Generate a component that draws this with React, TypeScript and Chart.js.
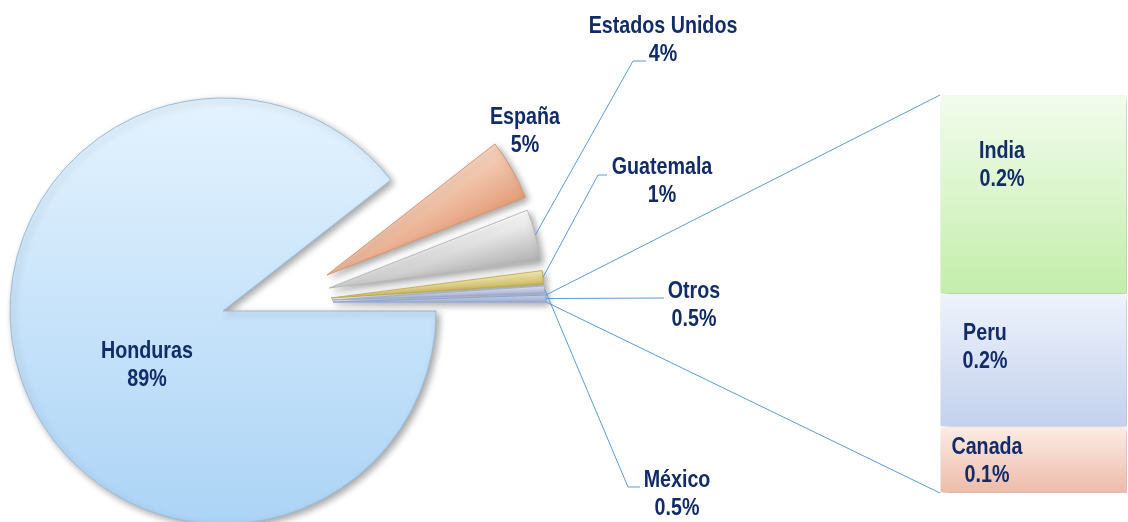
import React, { useEffect, useRef } from 'react';
import { Chart, registerables } from 'chart.js';

Chart.register(...registerables);

// ---- data ----
const pieCategories = ['Honduras', 'España', 'Estados Unidos', 'Guatemala', 'México', 'Otros'];
const pieValues = [89.45, 4.6, 3.9, 1.0, 0.53, 0.52];
const barCategories = ['India', 'Peru', 'Canada'];
const barValues = [0.24, 0.16, 0.08];

// ---- styles / layout ----
const W = 1128;
const H = 522;
const BAR_LEFT = 940;
const BAR_W = W - BAR_LEFT;
const PIE_RADIUS = 213;
const TEXT = '#112c68';
const LINE = '#5b9bd5';

const pieLight = ['#e4f3fe', '#f7d6c2', '#ffffff', '#f8f0b8', '#dde4f6', '#c9d5ef'];
const pieDark = ['#acd4f6', '#e39c77', '#adadad', '#cbb553', '#aab8de', '#9badd8'];
const pieBorder = ['#9cbcd8', '#d89572', '#b9b9b9', '#c4b05a', '#9fb0d8', '#8fa3d3'];
// explosion shift of each slice (px)
const explode: [number, number][] = [[0, 0], [104, -36], [106, -23], [108, -13], [109, -11], [110, -9]];
// label anchors (centre of first line) and leader elbows
const pieLabelPos: [number, number][] = [[147, 351], [525, 117], [663, 26], [662, 167], [677, 480], [694, 291]];
const pieLeaders: ([number, number][] | null)[] = [null, null, [[633, 61], [646, 61]], [[598, 175], [607, 175]], [[628, 487], [640, 487]], [[664, 298]]];

const barLight = ['#f2fced', '#eef3fc', '#fcece5'];
const barDark = ['#c3eeaa', '#c3d1ed', '#eebba9'];
const barLabelOff: [number, number][] = [[62, 56], [45, 39], [47, 21]];

const fmtPct = (v: number) => (v >= 1 ? Math.round(v) + '%' : v.toFixed(1) + '%');

export default function App() {
  const pieRef = useRef<HTMLCanvasElement>(null);
  const barRef = useRef<HTMLCanvasElement>(null);

  useEffect(() => {
    const pc = pieRef.current!;
    const bc = barRef.current!;

    const probe = document.createElement('canvas').getContext('2d')!;
    probe.font = 'bold 24px "Liberation Sans Narrow", monospace';
    const a = probe.measureText('Estados Unidos').width;
    probe.font = 'bold 24px monospace';
    const b = probe.measureText('Estados Unidos').width;
    const narrow = Math.abs(a - b) > 0.5;
    const FONT = narrow ? 'bold 24px "Liberation Sans Narrow"' : 'bold 24px "Liberation Sans", Arial, sans-serif';
    const SX = narrow ? 1 : 0.82;

    const drawText = (ctx: CanvasRenderingContext2D, text: string, x: number, y: number) => {
      ctx.save();
      ctx.translate(x, y);
      ctx.scale(SX, 1);
      ctx.font = FONT;
      ctx.fillStyle = TEXT;
      ctx.textAlign = 'center';
      ctx.textBaseline = 'middle';
      ctx.fillText(text, 0, 0);
      ctx.restore();
    };

    const shadowOn = (ctx: CanvasRenderingContext2D) => {
      ctx.save();
      ctx.shadowColor = 'rgba(0,0,0,0.35)';
      ctx.shadowBlur = 7;
      ctx.shadowOffsetX = 3;
      ctx.shadowOffsetY = 3;
    };

    // ---------- bar of pie ----------
    const barTotal = barValues.reduce((s, v) => s + v, 0);
    const order = [2, 1, 0]; // bottom -> top
    const barDeco = {
      id: 'barDeco',
      beforeDatasetsDraw(chart: any) { shadowOn(chart.ctx); },
      afterDatasetsDraw(chart: any) { chart.ctx.restore(); },
      afterDraw(chart: any) {
        const ctx = chart.ctx;
        order.forEach((idx, di) => {
          const el = chart.getDatasetMeta(di).data[0];
          const left = el.x - el.width / 2;
          const top = Math.min(el.y, el.base);
          const [ox, oy] = barLabelOff[idx];
          drawText(ctx, barCategories[idx], left + ox, top + oy);
          drawText(ctx, fmtPct(barValues[idx]), left + ox, top + oy + 28);
        });
      },
    };

    const barChart = new Chart(bc, {
      type: 'bar',
      data: {
        labels: [''],
        datasets: order.map((idx, di) => ({
          label: barCategories[idx],
          data: [barValues[idx]],
          backgroundColor: (c: any) => {
            const chart = c.chart;
            const ys = chart.scales && chart.scales.y;
            if (!ys || !chart.chartArea) return barLight[idx];
            let below = 0;
            for (let k = 0; k < di; k++) below += barValues[order[k]];
            const y0 = ys.getPixelForValue(below + barValues[idx]);
            const y1 = ys.getPixelForValue(below);
            const g = chart.ctx.createLinearGradient(0, y0, 0, y1);
            g.addColorStop(0, barLight[idx]);
            g.addColorStop(1, barDark[idx]);
            return g;
          },
          borderColor: '#ffffff',
          borderWidth: 1,
          borderSkipped: false,
          barPercentage: 1,
          categoryPercentage: 1,
        })),
      },
      options: {
        responsive: false,
        animation: false,
        events: [],
        layout: { padding: { top: 95, bottom: 29, left: 0, right: 1 } },
        scales: {
          x: { display: false, stacked: true },
          y: { display: false, stacked: true, min: 0, max: barTotal },
        },
        plugins: { legend: { display: false }, tooltip: { enabled: false } },
      },
      plugins: [barDeco],
    } as any);

    // ---------- pie ----------
    const pieTotal = pieValues.reduce((s, v) => s + v, 0);
    const angleOf = (i: number) => {
      let cum = 0;
      for (let k = 0; k < i; k++) cum += pieValues[k];
      return [(cum / pieTotal) * Math.PI * 2, ((cum + pieValues[i]) / pieTotal) * Math.PI * 2];
    };

    const pieDeco = {
      id: 'pieDeco',
      afterDatasetsUpdate(chart: any) {
        const meta = chart.getDatasetMeta(0);
        meta.data.forEach((el: any, i: number) => {
          el.x += explode[i][0];
          el.y += explode[i][1];
        });
      },
      beforeDatasetsDraw(chart: any) { shadowOn(chart.ctx); },
      afterDatasetsDraw(chart: any) { chart.ctx.restore(); },
      afterDraw(chart: any) {
        const ctx = chart.ctx;
        const meta = chart.getDatasetMeta(0);
        ctx.save();
        ctx.strokeStyle = LINE;
        ctx.lineWidth = 1;
        // leader lines
        meta.data.forEach((el: any, i: number) => {
          const pts = pieLeaders[i];
          if (!pts) return;
          const mid = (el.startAngle + el.endAngle) / 2;
          const sx = el.x + el.outerRadius * Math.cos(mid);
          const sy = el.y + el.outerRadius * Math.sin(mid);
          ctx.beginPath();
          ctx.moveTo(sx, sy);
          pts.forEach(([x, y]) => ctx.lineTo(x, y));
          ctx.stroke();
        });
        // connector lines to the bar
        const other = meta.data[meta.data.length - 1];
        const topBar = barChart.getDatasetMeta(order.length - 1).data[0] as any;
        const botBar = barChart.getDatasetMeta(0).data[0] as any;
        const barX = BAR_LEFT + topBar.x - topBar.width / 2;
        const p1x = other.x + other.outerRadius * Math.cos(other.startAngle);
        const p1y = other.y + other.outerRadius * Math.sin(other.startAngle);
        const p2x = other.x + other.outerRadius * Math.cos(other.endAngle);
        const p2y = other.y + other.outerRadius * Math.sin(other.endAngle);
        ctx.beginPath();
        ctx.moveTo(p1x, p1y);
        ctx.lineTo(barX, Math.min(topBar.y, topBar.base));
        ctx.moveTo(p2x, p2y);
        ctx.lineTo(barX, Math.max(botBar.y, botBar.base));
        ctx.stroke();
        ctx.restore();
        // labels
        pieCategories.forEach((name, i) => {
          const [x, y] = pieLabelPos[i];
          drawText(ctx, name, x, y);
          drawText(ctx, fmtPct(pieValues[i]), x, y + 28);
        });
      },
    };

    const pieChart = new Chart(pc, {
      type: 'pie',
      data: {
        labels: pieCategories,
        datasets: [{
          data: pieValues,
          backgroundColor: (c: any) => {
            const i = c.dataIndex;
            const chart = c.chart;
            const ca = chart.chartArea;
            if (!ca) return pieLight[i];
            const cx = (ca.left + ca.right) / 2;
            const cy = (ca.top + ca.bottom) / 2;
            let g;
            if (i === 0) {
              g = chart.ctx.createLinearGradient(0, cy - PIE_RADIUS, 0, cy + PIE_RADIUS);
            } else {
              const [s, e] = angleOf(i);
              const ax = cx + explode[i][0];
              const ay = cy + explode[i][1];
              g = chart.ctx.createLinearGradient(
                ax + PIE_RADIUS * Math.cos(s), ay + PIE_RADIUS * Math.sin(s),
                ax + PIE_RADIUS * Math.cos(e), ay + PIE_RADIUS * Math.sin(e) + 2,
              );
            }
            g.addColorStop(0, pieLight[i]);
            g.addColorStop(1, pieDark[i]);
            return g;
          },
          borderColor: pieBorder,
          borderWidth: 1,
          clip: false,
        } as any],
      },
      options: {
        responsive: false,
        animation: false,
        events: [],
        rotation: 90,
        radius: PIE_RADIUS,
        layout: { padding: { left: 0, right: W - 446, top: 100, bottom: 0 } },
        plugins: { legend: { display: false }, tooltip: { enabled: false } },
      },
      plugins: [pieDeco],
    } as any);

    return () => {
      pieChart.destroy();
      barChart.destroy();
    };
  }, []);

  return (
    <div style={{ position: 'fixed', left: 0, top: 0, width: W, height: H, background: '#fff' }}>
      <canvas ref={pieRef} width={W} height={H} style={{ position: 'absolute', left: 0, top: 0, width: W, height: H }} />
      <canvas ref={barRef} width={BAR_W} height={H} style={{ position: 'absolute', left: BAR_LEFT, top: 0, width: BAR_W, height: H }} />
    </div>
  );
}
